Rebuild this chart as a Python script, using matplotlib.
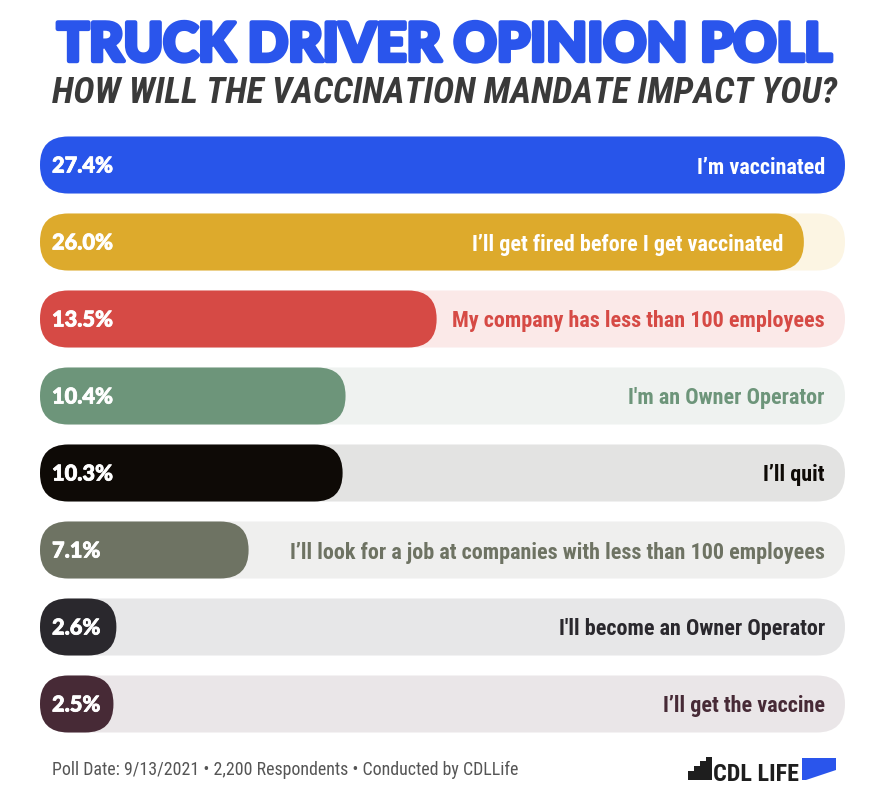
import matplotlib
matplotlib.use('Agg')
import matplotlib.pyplot as plt
from matplotlib import font_manager
from matplotlib import patheffects as pe
from matplotlib.font_manager import FontProperties
from matplotlib.patches import FancyBboxPatch, Polygon
from matplotlib.transforms import offset_copy

# poll data
pct = [27.4, 26.0, 13.5, 10.4, 10.3, 7.1, 2.6, 2.5]
answers = ["I’m vaccinated",
           "I’ll get fired before I get vaccinated",
           "My company has less than 100 employees",
           "I'm an Owner Operator",
           "I’ll quit",
           "I’ll look for a job at companies with less than 100 employees",
           "I'll become an Owner Operator",
           "I’ll get the vaccine"]
bar_colors = ['#2855EA', '#DDAA2C', '#D64A45', '#6D957A',
              '#0E0A06', '#6E7363', '#2A282D', '#472A36']
track_colors = ['#E9EEFD', '#FCF5E3', '#FBE9E8', '#EFF2F0',
                '#E3E3E2', '#EFEFEE', '#E7E7E8', '#EAE6E8']

title = "TRUCK DRIVER OPINION POLL"
subtitle = "HOW WILL THE VACCINATION MANDATE IMPACT YOU?"
footer = "Poll Date: 9/13/2021 • 2,200 Respondents • Conducted by CDLLife"

W, H = 895, 812


def find_font(stems, fallback):
    files = [f.fname for f in font_manager.fontManager.ttflist]
    for s in stems:
        for fn in files:
            if fn.split('/')[-1].split('.')[0] == s:
                return FontProperties(fname=fn)
    return FontProperties(**fallback)


f_title = find_font(['Lato-Black', 'Roboto-Black', 'Inter-Black', 'Lato-Heavy', 'Roboto-Bold'],
                    dict(family=['Lato', 'Roboto', 'DejaVu Sans'], weight=900))
f_sub = find_font(['RobotoCondensed-BoldItalic', 'NotoSans-CondensedBoldItalic',
                   'LiberationSansNarrow-BoldItalic', 'Roboto-BoldItalic'],
                  dict(family='DejaVu Sans', weight='bold', style='italic'))
f_lab = find_font(['RobotoCondensed-Bold', 'NotoSans-SemiCondensedBold', 'NotoSans-CondensedBold',
                   'LiberationSansNarrow-Bold', 'Roboto-Bold'],
                  dict(family='DejaVu Sans', weight='bold'))
f_pct = find_font(['Lato-Black', 'Lato-Heavy', 'Lato-Bold', 'Roboto-Bold'],
                  dict(family='DejaVu Sans', weight='bold'))
f_foot = find_font(['RobotoCondensed-Regular', 'NotoSans-Condensed', 'LiberationSansNarrow-Regular',
                    'Roboto-Regular'],
                   dict(family='DejaVu Sans'))

fig = plt.figure(figsize=(W / 100, H / 100), dpi=100)
fig.patch.set_facecolor('white')
rend = fig.canvas.get_renderer()

# overlay in pixel units for titles, footer and logo
ov = fig.add_axes([0, 0, 1, 1], zorder=0)
ov.set_xlim(0, W)
ov.set_ylim(H, 0)
ov.axis('off')


def fit(fp, s, width_px):
    fp = fp.copy()
    fp.set_size(20)
    t = fig.text(0, 0, s, fontproperties=fp)
    w = t.get_window_extent(rend).width
    t.remove()
    fp.set_size(20 * width_px / w)
    return fp


blue = '#2A55EC'
ft = fit(f_title, title, 775)
ov.text(57, 62, title, fontproperties=ft, color=blue, va='baseline', ha='left',
        path_effects=[pe.withStroke(linewidth=3.2, foreground=blue)])
fs = fit(f_sub, subtitle, 783)
ov.text(52, 103, subtitle, fontproperties=fs, color='#3A3A3A', va='baseline', ha='left')

# bars
row0, step = 166, 77
left_px, right_px = 40, 845
top_px = row0 - step / 2
bot_px = row0 + step * (len(pct) - 0.5)
ax = fig.add_axes([left_px / W, (H - bot_px) / H, (right_px - left_px) / W, (bot_px - top_px) / H],
                  zorder=1)
vmax = max(pct)
ax.set_xlim(0, vmax)
ax.set_ylim(len(pct) - 0.5, -0.5)
ax.axis('off')
ax.patch.set_alpha(0)

px_x = (right_px - left_px) / vmax
px_y = step
bar_h = 57 / px_y
asp = px_x / px_y
rad = 0.495 * 57 / px_x

for i, v in enumerate(pct):
    tr = FancyBboxPatch((0, i - bar_h / 2), vmax, bar_h,
                        boxstyle=f"round,pad=0,rounding_size={rad}",
                        mutation_aspect=asp, fc=track_colors[i], ec='none')
    ax.add_patch(tr)
    b = FancyBboxPatch((0, i - bar_h / 2), v, bar_h,
                       boxstyle=f"round,pad=0,rounding_size={rad}",
                       mutation_aspect=asp, fc=bar_colors[i], ec='none')
    ax.add_patch(b)

fp_pct = fit(f_pct, "27.4%", 61)
fp_lab = fit(f_lab, answers[5], 533)
cap = 15

for i, v in enumerate(pct):
    tp = offset_copy(ax.transData, fig, x=12, y=-cap / 2, units='dots')
    ax.text(0, i, f"{v:.1f}%", fontproperties=fp_pct, color='white',
            ha='left', va='baseline', transform=tp,
            path_effects=[pe.withStroke(linewidth=0.6, foreground='white')])
    t = ax.text(0, i, answers[i], fontproperties=fp_lab, ha='right', va='baseline')
    lw = t.get_window_extent(rend).width
    # label goes inside the bar when it would overlap the bar at the track end
    if vmax * px_x - 20 - lw < v * px_x:
        t.set_position((v, i))
        t.set_color('white')
    else:
        t.set_position((vmax, i))
        t.set_color(bar_colors[i])
    t.set_transform(offset_copy(ax.transData, fig, x=-20, y=-cap / 2, units='dots'))

# footer
ff = fit(f_foot, footer, 465)
ov.text(52, 775, footer, fontproperties=ff, color='#555555', va='baseline', ha='left')

# logo
ov.add_patch(Polygon([(688, 781), (688, 772), (694, 772), (694, 767), (700, 767), (700, 762),
                      (706, 762), (706, 758), (712, 758), (712, 781)], closed=True,
                     fc='#1E1E1E', ec='none'))
fl = fit(f_lab, "CDL LIFE", 86)
ov.text(713, 781, "CDL LIFE", fontproperties=fl, color='#1E1E1E', va='baseline', ha='left')
ov.add_patch(Polygon([(802, 759), (836, 759), (836, 771), (806, 781), (802, 781)], closed=True,
                     fc=blue, ec='none'))

fig.savefig('out.png', dpi=100)
